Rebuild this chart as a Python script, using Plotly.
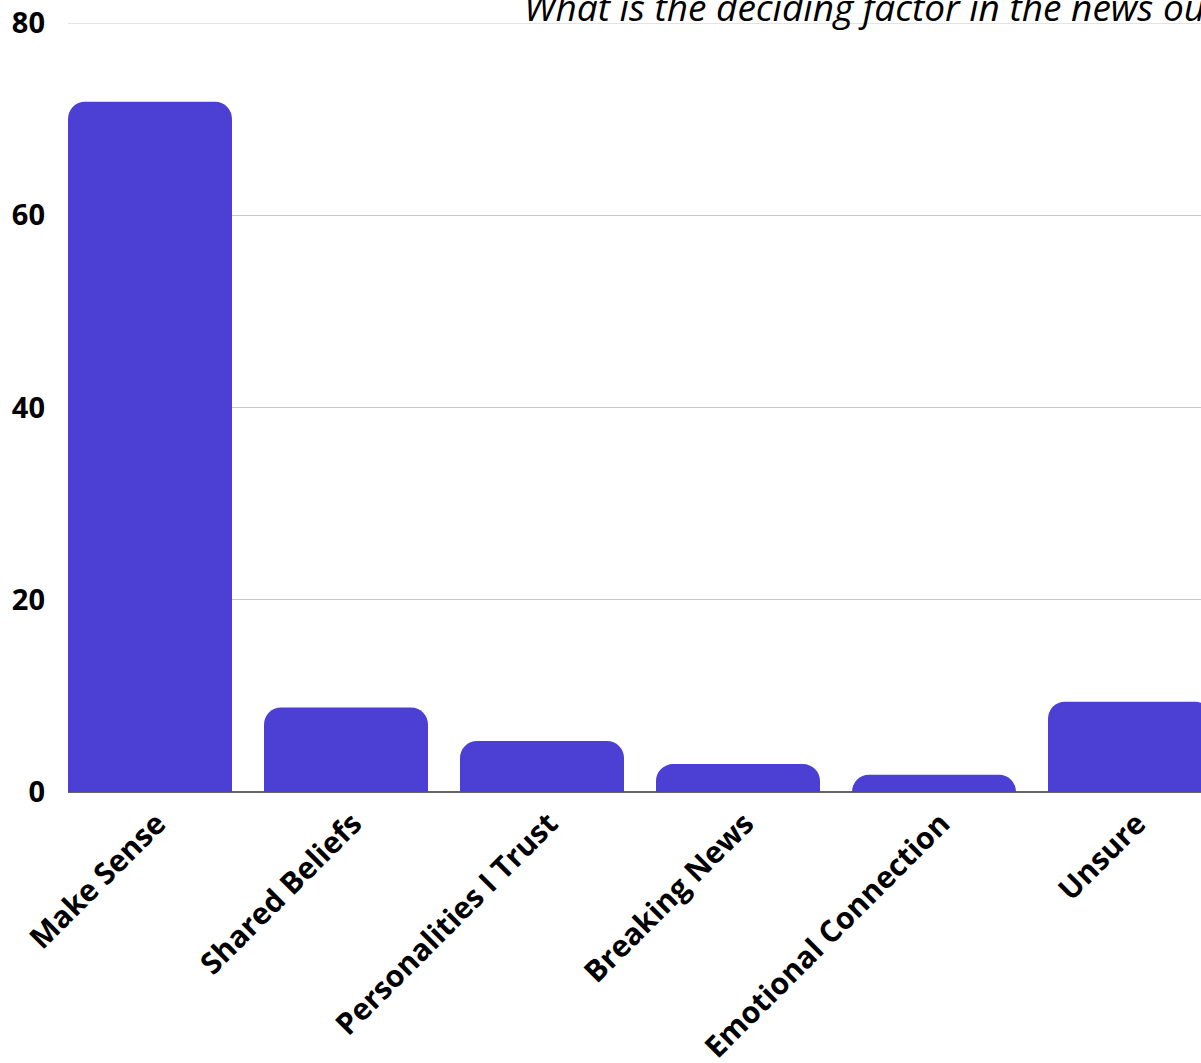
import plotly.graph_objects as go

categories = ["Make Sense", "Shared Beliefs", "Personalities I Trust",
              "Breaking News", "Emotional Connection", "Unsure"]
values = [71.8, 8.8, 5.3, 2.9, 1.8, 9.4]
y_ticks = [0, 20, 40, 60, 80]
title_text = "What is the deciding factor in the news outlets you choose?"

W, H = 1201, 1063
ml, mt, mb = 68, 23, 271
slot = 196.0
gap = 32.0
x_lo = -0.5 + (gap / 2) / slot
x_hi = x_lo + (W - ml) / slot
plot_h = H - mt - mb

fig = go.Figure(go.Bar(
    x=categories, y=values,
    marker=dict(color="#4C40D4", line=dict(width=0)),
))

fig.update_layout(
    width=W, height=H,
    margin=dict(l=ml, r=0, t=mt, b=mb, pad=0, autoexpand=False),
    paper_bgcolor="white", plot_bgcolor="white",
    bargap=gap / slot,
    barcornerradius=17,
    showlegend=False,
    font=dict(family="Open Sans", color="black"),
    xaxis=dict(
        range=[x_lo, x_hi],
        tickangle=-45,
        tickfont=dict(family="Open Sans", size=30, weight="bold", color="black"),
        showgrid=False, ticks="", showline=False, zeroline=False,
        ticklabelstandoff=7, ticklabelshift=7, automargin=False,
    ),
    yaxis=dict(
        range=[0, 80],
        tickvals=y_ticks,
        tickfont=dict(family="Open Sans", size=29, weight="bold", color="black"),
        showgrid=True, gridcolor="#c8c8c8", gridwidth=1,
        zeroline=True, zerolinecolor="#666666", zerolinewidth=1.5,
        ticks="", ticklabelstandoff=22, automargin=False,
    ),
    shapes=[dict(type="line", xref="paper", yref="y", x0=0, x1=1,
                 y0=y_ticks[-1], y1=y_ticks[-1],
                 line=dict(color="#c8c8c8", width=1), layer="below")],
    annotations=[dict(
        text=title_text, xref="paper", yref="paper",
        x=(522 - ml) / (W - ml), y=(plot_h + mt - 6) / plot_h,
        xanchor="left", yanchor="middle", showarrow=False,
        font=dict(family="Open Sans", size=37, style="italic", color="black"),
    )],
)

fig.write_html("out.html")
